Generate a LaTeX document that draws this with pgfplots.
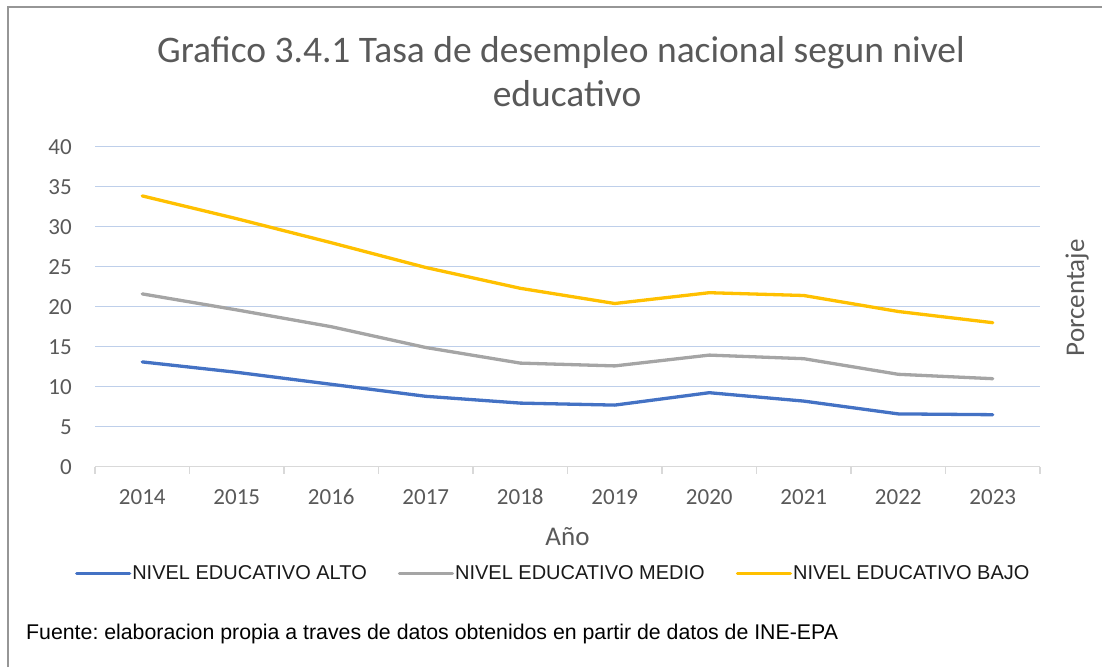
\documentclass[border=0pt]{standalone}
\usepackage{fontspec}
\setmainfont{Carlito}
\newfontfamily\arialf{Liberation Sans}
\usepackage{pgfplots}
\pgfplotsset{compat=1.18}
\definecolor{altoc}{HTML}{4472C4}
\definecolor{medioc}{HTML}{A5A5A5}
\definecolor{bajoc}{HTML}{FFC000}
\definecolor{gridc}{RGB}{190,207,234}
\definecolor{axisc}{HTML}{D9D9D9}
\definecolor{txtc}{HTML}{595959}
\definecolor{framec}{RGB}{150,150,150}
\frenchspacing

\begin{document}
\begin{tikzpicture}[x=1pt,y=1pt]
\path[use as bounding box] (0,0) rectangle (1102,667);
\draw[framec, line width=1.5pt] (8,0) -- (8,660) -- (1102,660);

% title, two lines
\node[anchor=base, text=txtc, font=\fontsize{37.5}{44}\selectfont, inner sep=0pt] at (561,604) {Grafico 3.4.1 Tasa de desempleo nacional segun nivel};
\node[anchor=base, text=txtc, font=\fontsize{37.5}{44}\selectfont, inner sep=0pt] at (567,560) {educativo};

\begin{axis}[
  at={(95pt,200.3pt)}, anchor=south west,
  width=945pt, height=320pt, scale only axis,
  xmin=-0.5, xmax=9.5, ymin=0, ymax=40,
  axis x line*=bottom, axis y line*=left,
  x axis line style={draw=axisc, line width=1.5pt, -},
  y axis line style={draw=none},
  xtick={0,...,9},
  xticklabels={2014,2015,2016,2017,2018,2019,2020,2021,2022,2023},
  minor xtick={-0.5,0.5,...,9.5},
  ytick={0,5,...,40},
  tick align=outside,
  major tick length=0pt, minor tick length=7pt,
  minor x tick style={draw=axisc, line width=1.5pt},
  major tick style={draw=none},
  ymajorgrids, major grid style={draw=gridc, line width=1.3pt},
  /pgf/number format/assume math mode=true,
  ticklabel style={font=\fontsize{23}{27}\selectfont, text=txtc, inner sep=0pt},
  xticklabel style={anchor=base, yshift=-38pt},
  yticklabel style={anchor=east, xshift=-23pt},
  xlabel={Año},
  xlabel style={at={(axis description cs:0.5,-0.21875)}, anchor=center, inner sep=0pt, font=\fontsize{27}{31}\selectfont, text=txtc},
  ylabel={Porcentaje},
  ylabel style={at={(axis description cs:1.0392,0.528)}, anchor=center, inner sep=0pt, rotate=0, font=\fontsize{27}{31}\selectfont, text=txtc},
  legend columns=3,
  legend image code/.code={\draw[#1] (0pt,0pt) -- (53pt,0pt);},
  legend style={at={(axis description cs:-0.02116,-0.334375)}, anchor=west,
    draw=none, fill=none, inner sep=0pt, outer sep=0pt,
    font=\arialf\fontsize{20}{24}\selectfont, text=black!90,
    nodes={inner sep=1pt},
    column sep=0pt,
    /tikz/every even column/.append style={column sep=30pt}},
  every axis plot/.append style={line width=3.3pt, line join=round, line cap=round},
]
\addplot[altoc] coordinates {
  (0,13.1) (1,11.8) (2,10.3) (3,8.8) (4,7.95) (5,7.7) (6,9.25) (7,8.2) (8,6.6) (9,6.5)
};
\addlegendentry{NIVEL EDUCATIVO ALTO}
\addplot[medioc] coordinates {
  (0,21.6) (1,19.6) (2,17.5) (3,14.9) (4,12.95) (5,12.6) (6,13.95) (7,13.5) (8,11.55) (9,11.0)
};
\addlegendentry{NIVEL EDUCATIVO MEDIO}
\addplot[bajoc] coordinates {
  (0,33.85) (1,31.0) (2,28.0) (3,24.9) (4,22.3) (5,20.4) (6,21.75) (7,21.4) (8,19.4) (9,18.0)
};
\addlegendentry{NIVEL EDUCATIVO BAJO}
\end{axis}

\node[anchor=base west, inner sep=0pt, font=\arialf\fontsize{21.3}{25}\selectfont, text=black] at (26,28) {Fuente: elaboracion propia a traves de datos obtenidos en partir de datos de INE-EPA};
\end{tikzpicture}
\end{document}
